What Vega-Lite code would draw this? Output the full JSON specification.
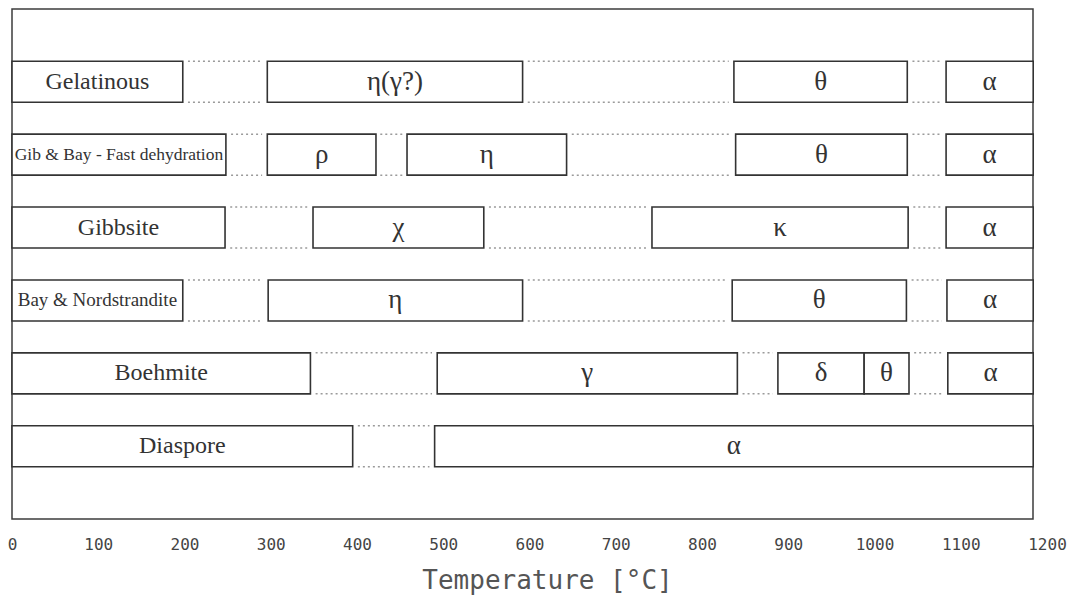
{
  "$schema": "https://vega.github.io/schema/vega-lite/v6.json",
  "autosize": {"type": "none"},
  "padding": {"left": 12, "top": 9, "right": 40, "bottom": 79},
  "width": 1021,
  "height": 510,
  "background": "white",
  "config": {
    "view": {"stroke": "#3c3c3c", "strokeWidth": 1.5},
    "axis": {"grid": false}
  },
  "datasets": {
    "phases": [
      {"sample": "Gelatinous", "phase": "Gelatinous", "start": 0, "end": 198},
      {"sample": "Gelatinous", "phase": "η(γ?)", "start": 296, "end": 592},
      {"sample": "Gelatinous", "phase": "θ", "start": 837, "end": 1038},
      {"sample": "Gelatinous", "phase": "α", "start": 1083, "end": 1184},
      {"sample": "Gib & Bay - Fast dehydration", "phase": "Gib & Bay - Fast dehydration", "start": 0, "end": 248},
      {"sample": "Gib & Bay - Fast dehydration", "phase": "ρ", "start": 296, "end": 422},
      {"sample": "Gib & Bay - Fast dehydration", "phase": "η", "start": 458, "end": 643},
      {"sample": "Gib & Bay - Fast dehydration", "phase": "θ", "start": 839, "end": 1038},
      {"sample": "Gib & Bay - Fast dehydration", "phase": "α", "start": 1083, "end": 1184},
      {"sample": "Gibbsite", "phase": "Gibbsite", "start": 0, "end": 247},
      {"sample": "Gibbsite", "phase": "χ", "start": 349, "end": 547},
      {"sample": "Gibbsite", "phase": "κ", "start": 742, "end": 1039},
      {"sample": "Gibbsite", "phase": "α", "start": 1083, "end": 1184},
      {"sample": "Bay & Nordstrandite", "phase": "Bay & Nordstrandite", "start": 0, "end": 198},
      {"sample": "Bay & Nordstrandite", "phase": "η", "start": 297, "end": 592},
      {"sample": "Bay & Nordstrandite", "phase": "θ", "start": 835, "end": 1037},
      {"sample": "Bay & Nordstrandite", "phase": "α", "start": 1084, "end": 1184},
      {"sample": "Boehmite", "phase": "Boehmite", "start": 0, "end": 346},
      {"sample": "Boehmite", "phase": "γ", "start": 493, "end": 841},
      {"sample": "Boehmite", "phase": "δ", "start": 888, "end": 988},
      {"sample": "Boehmite", "phase": "θ", "start": 988, "end": 1040},
      {"sample": "Boehmite", "phase": "α", "start": 1085, "end": 1184},
      {"sample": "Diaspore", "phase": "Diaspore", "start": 0, "end": 395},
      {"sample": "Diaspore", "phase": "α", "start": 490, "end": 1184}
    ],
    "transitions": [
      {"sample": "Gelatinous", "from": 204, "to": 290},
      {"sample": "Gelatinous", "from": 598, "to": 831},
      {"sample": "Gelatinous", "from": 1044, "to": 1077},
      {"sample": "Gib & Bay - Fast dehydration", "from": 254, "to": 290},
      {"sample": "Gib & Bay - Fast dehydration", "from": 427, "to": 453},
      {"sample": "Gib & Bay - Fast dehydration", "from": 649, "to": 833},
      {"sample": "Gib & Bay - Fast dehydration", "from": 1044, "to": 1077},
      {"sample": "Gibbsite", "from": 253, "to": 343},
      {"sample": "Gibbsite", "from": 553, "to": 736},
      {"sample": "Gibbsite", "from": 1045, "to": 1077},
      {"sample": "Bay & Nordstrandite", "from": 204, "to": 291},
      {"sample": "Bay & Nordstrandite", "from": 598, "to": 829},
      {"sample": "Bay & Nordstrandite", "from": 1043, "to": 1078},
      {"sample": "Boehmite", "from": 352, "to": 487},
      {"sample": "Boehmite", "from": 847, "to": 882},
      {"sample": "Boehmite", "from": 1046, "to": 1079},
      {"sample": "Diaspore", "from": 401, "to": 484}
    ]
  },
  "encoding": {
    "y": {
      "field": "sample",
      "type": "nominal",
      "sort": ["Gelatinous", "Gib & Bay - Fast dehydration", "Gibbsite", "Bay & Nordstrandite", "Boehmite", "Diaspore"],
      "scale": {"paddingInner": 0.4376, "paddingOuter": 0.7168},
      "axis": null
    }
  },
  "layer": [
    {
      "data": {"name": "transitions"},
      "mark": {"type": "rule", "color": "#9a9a9a", "strokeWidth": 1.5, "strokeDash": [2, 3]},
      "encoding": {
        "x": {"field": "from", "type": "quantitative", "scale": {"domain": [0, 1200], "range": [0, 1035]}},
        "x2": {"field": "to"},
        "y": {"field": "sample", "type": "nominal", "bandPosition": 0, "sort": ["Gelatinous", "Gib & Bay - Fast dehydration", "Gibbsite", "Bay & Nordstrandite", "Boehmite", "Diaspore"]}
      }
    },
    {
      "data": {"name": "transitions"},
      "mark": {"type": "rule", "color": "#9a9a9a", "strokeWidth": 1.5, "strokeDash": [2, 3]},
      "encoding": {
        "x": {"field": "from", "type": "quantitative"},
        "x2": {"field": "to"},
        "y": {"field": "sample", "type": "nominal", "bandPosition": 1, "sort": ["Gelatinous", "Gib & Bay - Fast dehydration", "Gibbsite", "Bay & Nordstrandite", "Boehmite", "Diaspore"]}
      }
    },
    {
      "data": {"name": "phases"},
      "mark": {"type": "rect", "fill": "white", "stroke": "#333333", "strokeWidth": 1.6},
      "encoding": {
        "x": {
          "field": "start",
          "type": "quantitative",
          "scale": {"domain": [0, 1200], "range": [0, 1035]},
          "axis": {
            "title": "Temperature [°C]",
            "values": [0, 100, 200, 300, 400, 500, 600, 700, 800, 900, 1000, 1100, 1200],
            "format": "d",
            "domain": false,
            "ticks": false,
            "labelFont": "DejaVu Sans Mono",
            "labelFontSize": 16,
            "labelColor": "#444444",
            "labelPadding": 17,
            "labelOverlap": false,
            "labelFlush": false,
            "labelBound": false,
            "titleFont": "DejaVu Sans Mono",
            "titleFontSize": 26,
            "titleFontWeight": "normal",
            "titleColor": "#555555",
            "titlePadding": 15,
            "titleX": 535
          }
        },
        "x2": {"field": "end"}
      }
    },
    {
      "data": {"name": "phases"},
      "transform": [{"calculate": "(datum.start + datum.end) / 2", "as": "mid"}],
      "mark": {"type": "text", "font": "Liberation Serif", "color": "#333333", "baseline": "middle", "align": "center"},
      "encoding": {
        "x": {"field": "mid", "type": "quantitative"},
        "text": {"field": "phase"},
        "size": {
          "condition": [
            {"test": "datum.phase === 'Gib & Bay - Fast dehydration'", "value": 17.5},
            {"test": "datum.phase === 'Bay & Nordstrandite'", "value": 19},
            {"test": "datum.phase === datum.sample", "value": 24}
          ],
          "value": 27
        }
      }
    }
  ]
}
